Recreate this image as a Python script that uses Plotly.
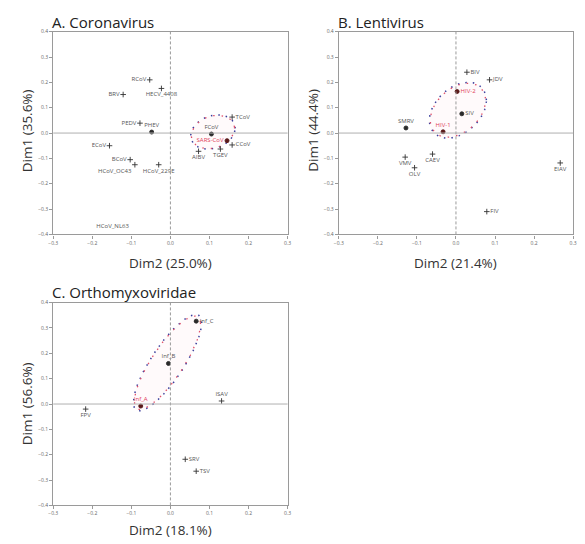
import numpy as np
import plotly.graph_objects as go

W, H = 585, 544

# ---------------- data ----------------
# Panel A: Coronavirus
a_names = ["RCoV", "BRV", "HECV_4408", "PEDV", "PHEV", "ECoV", "BCoV", "HCoV_OC43",
           "HCoV_229E", "HCoV_NL63", "TCoV", "FCoV", "SARS-CoV", "CCoV", "TGEV", "AIBV"]
a_x = [-0.053, -0.121, -0.023, -0.078, -0.048, -0.156, -0.103, -0.091,
       -0.030, -0.148, 0.158, 0.105, 0.145, 0.158, 0.128, 0.072]
a_y = [0.210, 0.152, 0.176, 0.039, 0.004, -0.050, -0.105, -0.125,
       -0.125, -0.350, 0.063, -0.004, -0.030, -0.047, -0.063, -0.072]
a_pos = ["middle left", "middle left", "bottom center", "middle left", "top center", "middle left",
         "middle left", "bottom left", "bottom center", "bottom center", "middle right", "top center",
         "middle left", "middle right", "bottom center", "bottom center"]
a_kind = ["plus", "plus", "plus", "plus", "dot", "plus", "plus", "plus",
          "plus", "none", "plus", "dot", "red", "plus", "plus", "plus"]

# Panel B: Lentivirus
b_names = ["BIV", "JDV", "HIV-2", "SIV", "SMRV", "HIV-1", "VMV", "OLV", "CAEV", "EIAV", "FIV"]
b_x = [0.028, 0.086, 0.003, 0.015, -0.128, -0.033, -0.130, -0.106, -0.060, 0.267, 0.079]
b_y = [0.240, 0.210, 0.164, 0.076, 0.020, 0.005, -0.095, -0.137, -0.083, -0.118, -0.310]
b_pos = ["middle right", "middle right", "middle right", "middle right", "top center", "top center",
         "bottom center", "bottom center", "bottom center", "bottom center", "middle right"]
b_kind = ["plus", "plus", "red", "dot", "dot", "red", "plus", "plus", "plus", "plus", "plus"]

# Panel C: Orthomyxoviridae
c_names = ["Inf_C", "Inf_B", "Inf_A", "ISAV", "FPV", "SRV", "TSV"]
c_x = [0.066, -0.005, -0.076, 0.131, -0.217, 0.038, 0.066]
c_y = [0.327, 0.160, -0.008, 0.012, -0.020, -0.218, -0.265]
c_pos = ["middle right", "top center", "top center", "top center", "bottom center",
         "middle right", "middle right"]
c_kind = ["dot", "dot", "red", "plus", "plus", "plus", "plus"]

# confidence ellipses: centre, half-extent x, half-extent y, phase
ell_a = dict(cx=0.109, cy=0.004, A=0.057, B=0.068, phi=1.35)
ell_b = dict(cx=0.005, cy=0.090, A=0.073, B=0.110, phi=1.20)
ell_c = dict(cx=-0.0075, cy=0.163, A=0.0875, B=0.190, phi=0.60)

titles = ["A. Coronavirus", "B. Lentivirus", "C. Orthomyxoviridae"]
xlabels = ["Dim2 (25.0%)", "Dim2 (21.4%)", "Dim2 (18.1%)"]
ylabels = ["Dim1 (35.6%)", "Dim1 (44.4%)", "Dim1 (56.6%)"]
x_ticks = [-0.3, -0.2, -0.1, 0.0, 0.1, 0.2, 0.3]
y_ticks = [0.4, 0.3, 0.2, 0.1, 0.0, -0.1, -0.2, -0.3, -0.4]

# ---------------- layout geometry (pixels) ----------------
panels = [
    dict(x0=49, x1=287, y0=29, y1=234, title=(46, 19), xl=(168, 263), yl=(22, 129)),
    dict(x0=339, x1=577, y0=29, y1=234, title=(336, 19), xl=(458, 263), yl=(312, 129)),
    dict(x0=49, x1=287, y0=303, y1=508, title=(46, 292), xl=(168, 533), yl=(22, 405)),
]


def px(x):
    return x / W


def py(y):
    return 1 - y / H


fig = go.Figure()
datasets = [(a_names, a_x, a_y, a_pos, a_kind, ell_a),
            (b_names, b_x, b_y, b_pos, b_kind, ell_b),
            (c_names, c_x, c_y, c_pos, c_kind, ell_c)]

annotations = []
shapes = []
for i, (names, xs, ys, pos, kind, ell) in enumerate(datasets):
    k = "" if i == 0 else str(i + 1)
    xa, ya = "x" + k, "y" + k
    p = panels[i]

    # ellipse
    t = np.linspace(0, 2 * np.pi, 200)
    ex = ell["cx"] + ell["A"] * np.cos(t)
    ey = ell["cy"] + ell["B"] * np.cos(t - ell["phi"])
    fig.add_trace(go.Scatter(x=ex, y=ey, mode="lines", fill="toself",
                             fillcolor="rgba(255,190,205,0.08)",
                             line=dict(color="#3b3f9c", width=1.5, dash="1.5px,6px"),
                             xaxis=xa, yaxis=ya, hoverinfo="skip", showlegend=False))
    ex2 = ell["cx"] + ell["A"] * 0.97 * np.cos(t + 0.08)
    ey2 = ell["cy"] + ell["B"] * 0.97 * np.cos(t + 0.08 - ell["phi"])
    fig.add_trace(go.Scatter(x=ex2, y=ey2, mode="lines",
                             line=dict(color="#e0506a", width=1.3, dash="1.5px,7px"),
                             xaxis=xa, yaxis=ya, hoverinfo="skip", showlegend=False))

    # points by kind
    for kd, sym, size, col, tcol in [("plus", "cross-thin", 4, "#333333", "#555555"),
                                      ("dot", "circle", 4, "#2a2a2a", "#555555"),
                                      ("red", "circle", 4, "#5a1a1a", "#e0405a"),
                                      ("none", "circle", 2, "rgba(0,0,0,0)", "#555555")]:
        idx = [j for j in range(len(names)) if kind[j] == kd]
        if not idx:
            continue
        fig.add_trace(go.Scatter(
            x=[xs[j] for j in idx], y=[ys[j] for j in idx],
            text=[names[j] for j in idx], textposition=[pos[j] for j in idx],
            mode="markers+text",
            marker=dict(symbol=sym, size=size, color=col,
                        line=dict(color=col, width=0.9)),
            textfont=dict(size=6, color=tcol, family="Open Sans"),
            xaxis=xa, yaxis=ya, showlegend=False, hoverinfo="text"))

    # reference lines
    shapes.append(dict(type="line", xref=xa, yref=ya + " domain", x0=0, x1=0, y0=0, y1=1,
                       line=dict(color="#9a9a9a", width=1, dash="3px,2px")))
    shapes.append(dict(type="line", xref=xa + " domain", yref=ya, x0=0, x1=1, y0=0, y1=0,
                       line=dict(color="#b0b0b0", width=1)))

    axcommon = dict(showline=True, mirror=True, linecolor="#9a9a9a", linewidth=1.2,
                    ticks="outside", ticklen=3, tickcolor="#9a9a9a",
                    tickfont=dict(size=5, color="#666666", family="Open Sans"),
                    showgrid=False, zeroline=False, tickformat=".1f")
    fig.layout["xaxis" + k] = dict(domain=[px(p["x0"]), px(p["x1"])], range=[-0.3, 0.3],
                                   tickvals=x_ticks, anchor=ya, **axcommon)
    fig.layout["yaxis" + k] = dict(domain=[py(p["y1"]), py(p["y0"])], range=[-0.4, 0.4],
                                   tickvals=y_ticks, anchor=xa, **axcommon)

    annotations.append(dict(text=titles[i], x=px(p["title"][0]), y=py(p["title"][1]),
                            xref="paper", yref="paper", xanchor="left", yanchor="middle",
                            showarrow=False, font=dict(size=15, color="#222222", family="Open Sans")))
    annotations.append(dict(text=xlabels[i], x=px(p["xl"][0]), y=py(p["xl"][1]),
                            xref="paper", yref="paper", xanchor="center", yanchor="middle",
                            showarrow=False, font=dict(size=13.5, color="#333333", family="Open Sans")))
    annotations.append(dict(text=ylabels[i], x=px(p["yl"][0]), y=py(p["yl"][1]),
                            xref="paper", yref="paper", xanchor="center", yanchor="middle",
                            textangle=-90, showarrow=False,
                            font=dict(size=13.5, color="#333333", family="Open Sans")))

fig.update_layout(width=W, height=H, margin=dict(l=0, r=0, t=0, b=0),
                  paper_bgcolor="white", plot_bgcolor="white",
                  annotations=annotations, shapes=shapes)

fig.write_html("out.html", config={"displayModeBar": False},
               post_script="document.body.style.margin='0';")
